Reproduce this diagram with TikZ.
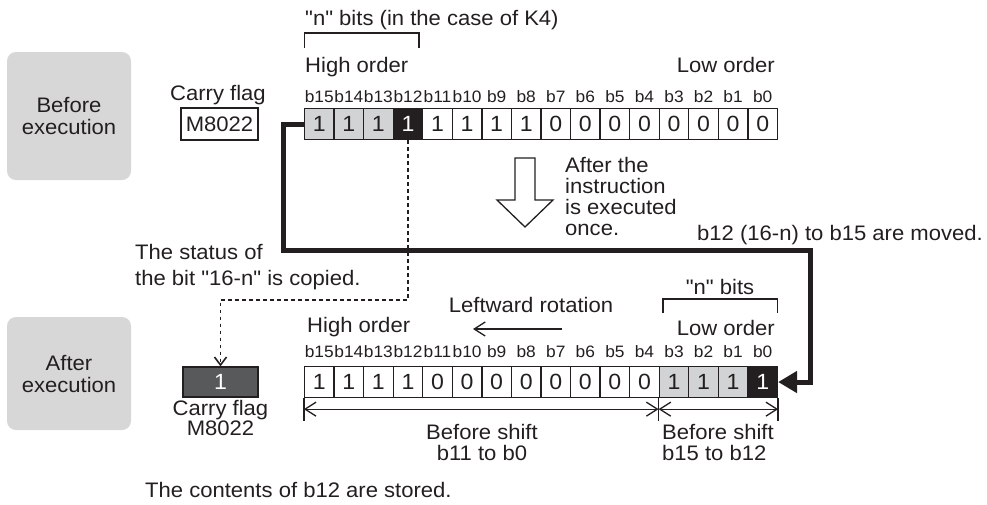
\documentclass[tikz,border=0pt]{standalone}
\usepackage{fontspec}
\newfontfamily\diagfont{Liberation Sans}[FakeStretch=1.05]
\usetikzlibrary{arrows.meta}

\definecolor{litegray}{HTML}{D1D3D4}
\definecolor{flaggray}{HTML}{58595B}
\definecolor{stagegray}{HTML}{D7D7D7}
\definecolor{inkblack}{HTML}{231F20}

\begin{document}
\begin{tikzpicture}[x=1pt,y=-1pt,line join=miter,
  txt/.style={font=\diagfont\fontsize{21}{22}\selectfont,inner sep=0pt,text=inkblack},
  bitlbl/.style={font=\diagfont\fontsize{16.5}{18}\selectfont,inner sep=0pt,text=inkblack},
  cell/.style={draw=inkblack,line width=1.3pt,minimum width=29.56pt,minimum height=31pt,
    inner sep=0pt,font=\diagfont\fontsize{22}{22}\selectfont,text=inkblack},
  shadecell/.style={cell,fill=litegray},
  keycell/.style={cell,fill=inkblack,text=white},
  stagebox/.style={fill=stagegray,rounded corners=9pt,minimum width=124pt,align=center,
    font=\diagfont\fontsize{21}{22}\selectfont,text=inkblack},
  thinline/.style={draw=inkblack,line width=1.3pt},
  barb/.style={-{Straight Barb[length=11pt,width=14pt]}},
  dotline/.style={draw=inkblack,line width=1.6pt,dash pattern=on 3.5pt off 3.5pt}]
  \useasboundingbox (0,0) rectangle (987,504);

  % stage boxes
  \node[stagebox,minimum height=128pt] (before) at (69,116) {Before\\execution};
  \node[stagebox,minimum height=113pt] (after) at (69,373.5) {After\\execution};

  % register before execution
  \foreach \v/\s [count=\i from 0] in {1/shadecell,1/shadecell,1/shadecell,1/keycell,
      1/cell,1/cell,1/cell,1/cell,0/cell,0/cell,0/cell,0/cell,0/cell,0/cell,0/cell,0/cell} {
    \pgfmathtruncatemacro\b{15-\i}
    \node[\s] (t\b) at (319.28+\i*29.56,124) {\v};
    \node[bitlbl] at (319.28+\i*29.56,97) {b\b};
  }
  \node[txt,anchor=west] (nbits) at (305,20) {"n" bits (in the case of K4)};
  \draw[thinline] (304.5,48) -- (304.5,33) -- (419,33) -- (419,48);
  \node[txt,anchor=west] (hiA) at (305,67) {High order};
  \node[txt,anchor=east] (loA) at (775,65) {Low order};

  % carry flag before
  \node[txt] (cflblA) at (218,95) {Carry flag};
  \node[draw=inkblack,line width=1.3pt,minimum width=77pt,minimum height=32pt,inner sep=0pt,
    font=\diagfont\fontsize{21}{22}\selectfont,text=inkblack] (cfA) at (219.5,124) {M8022};

  % hollow arrow and note
  \draw[thinline] (515,158) -- (515,200) -- (497,200) -- (525,227) -- (553,200)
    -- (535,200) -- (535,158) -- cycle;
  \node[txt,anchor=west,align=left,font=\diagfont\fontsize{21}{21}\selectfont] (note) at (565,196)
    {After the\\instruction\\is executed\\once.};
  \node[txt,anchor=east] (moved) at (983,235) {b12 (16-n) to b15 are moved.};
  \node[txt,anchor=west,align=left,font=\diagfont\fontsize{21}{26}\selectfont] (status) at (135,267)
    {The status of\\the bit "16-n" is copied.};

  % register after execution
  \foreach \v/\s [count=\i from 0] in {1/cell,1/cell,1/cell,1/cell,0/cell,0/cell,0/cell,0/cell,
      0/cell,0/cell,0/cell,0/cell,1/shadecell,1/shadecell,1/shadecell,1/keycell} {
    \pgfmathtruncatemacro\b{15-\i}
    \node[\s] (u\b) at (319.28+\i*29.56,382) {\v};
    \node[bitlbl] at (319.28+\i*29.56,352) {b\b};
  }
  \node[txt,anchor=west] (hiB) at (307,327) {High order};
  \node[txt,anchor=east] (loB) at (775,328) {Low order};
  \node[txt] (nbitsB) at (720,287) {"n" bits};
  \draw[thinline] (663,313) -- (663,299) -- (777.5,299) -- (777.5,313);
  \node[txt] (rot) at (531,305) {Leftward rotation};
  \coordinate (rotS) at (562,329);
  \coordinate (rotE) at (473,329);
  \draw[thinline,barb] (rotS) -- (rotE);

  % carry flag after
  \node[draw=inkblack,fill=flaggray,line width=1.3pt,minimum width=75pt,minimum height=30pt,
    inner sep=0pt,font=\diagfont\fontsize{22}{22}\selectfont,text=white] (cfB) at (220.5,382) {1};
  \node[txt,align=center,anchor=north,font=\diagfont\fontsize{21}{20}\selectfont] (cflblB)
    at ([yshift=-2pt]cfB.south) {Carry flag\\M8022};

  % rotation path b15..b12 -> b3..b0
  \draw[draw=inkblack,line width=5pt,-{Triangle[length=19pt,width=21pt]}]
    (t15.west) -| (283,250) -- (810,250) |- (u0.east);

  % copy of b12 into carry flag
  \coordinate (dotbend) at (0,300);
  \draw[dotline,-{Straight Barb[length=8pt,width=12pt]}]
    (t12.south) -- (t12.south |- dotbend) -| (cfB.north);

  % dimension lines
  \draw[thinline] (u15.south west) -- ++(0,23);
  \draw[thinline] (u3.south west) -- ++(0,23);
  \draw[thinline] (u0.south east) -- ++(0,23);
  \draw[thinline,{Straight Barb[length=11pt,width=14pt]}-{Straight Barb[length=11pt,width=14pt]}]
    ([yshift=-11pt]u15.south west) -- ([yshift=-11pt]u3.south west);
  \draw[thinline,{Straight Barb[length=11pt,width=14pt]}-{Straight Barb[length=11pt,width=14pt]}]
    ([yshift=-11pt]u3.south west) -- ([yshift=-11pt]u0.south east);
  \node[txt,align=center,font=\diagfont\fontsize{21}{21}\selectfont] (shiftA) at (482,442)
    {Before shift\\b11 to b0};
  \node[txt,anchor=west,align=left,font=\diagfont\fontsize{21}{21}\selectfont] (shiftB) at (662,442)
    {Before shift\\b15 to b12};

  \node[txt,anchor=west] (stored) at (145,490) {The contents of b12 are stored.};
\end{tikzpicture}
\end{document}
